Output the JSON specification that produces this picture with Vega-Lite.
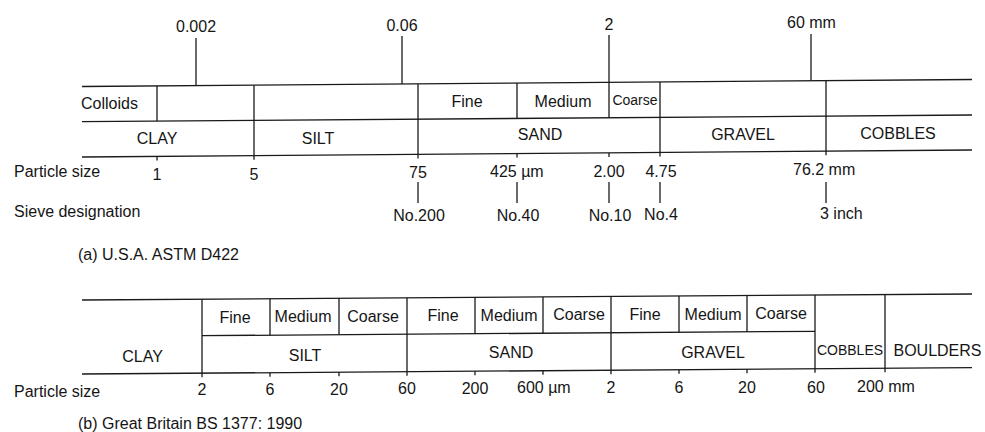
{
  "$schema": "https://vega.github.io/schema/vega-lite/v6.json",
  "width": 985,
  "height": 432,
  "autosize": {"type": "fit", "contains": "padding"},
  "padding": 0,
  "background": "white",
  "config": {"view": {"stroke": null}, "text": {"font": "Liberation Sans", "color": "#151515"}},
  "datasets": {
    "lines": [
      {"x": 82, "y": 86.5, "x2": 972, "y2": 79.5},
      {"x": 82, "y": 121.7, "x2": 972, "y2": 115},
      {"x": 82, "y": 157, "x2": 972, "y2": 150},
      {"x": 157, "y": 85.9, "x2": 157, "y2": 121.1},
      {"x": 157, "y": 156.4, "x2": 157, "y2": 160.5},
      {"x": 196, "y": 38, "x2": 196, "y2": 85.6},
      {"x": 254, "y": 85.15, "x2": 254, "y2": 159.7},
      {"x": 402, "y": 36, "x2": 402, "y2": 84},
      {"x": 418, "y": 83.9, "x2": 418, "y2": 158.4},
      {"x": 517, "y": 83.1, "x2": 517, "y2": 118.4},
      {"x": 517, "y": 153.6, "x2": 517, "y2": 157.6},
      {"x": 609, "y": 35, "x2": 609, "y2": 117.7},
      {"x": 609, "y": 152.9, "x2": 609, "y2": 156.9},
      {"x": 660, "y": 82, "x2": 660, "y2": 156.5},
      {"x": 811, "y": 34, "x2": 811, "y2": 80.8},
      {"x": 826, "y": 80.65, "x2": 826, "y2": 155.2},
      {"x": 418, "y": 182, "x2": 418, "y2": 203},
      {"x": 517, "y": 182, "x2": 517, "y2": 203},
      {"x": 609, "y": 182, "x2": 609, "y2": 203},
      {"x": 660, "y": 182, "x2": 660, "y2": 203},
      {"x": 826, "y": 182, "x2": 826, "y2": 203},
      {"x": 82, "y": 300, "x2": 972, "y2": 294},
      {"x": 202, "y": 335.65, "x2": 815, "y2": 331.3},
      {"x": 82, "y": 374, "x2": 972, "y2": 367.7},
      {"x": 202, "y": 299.2, "x2": 202, "y2": 377.2},
      {"x": 270, "y": 298.7, "x2": 270, "y2": 335.2},
      {"x": 270, "y": 372.7, "x2": 270, "y2": 376.7},
      {"x": 339, "y": 298.3, "x2": 339, "y2": 334.7},
      {"x": 339, "y": 372.2, "x2": 339, "y2": 376.2},
      {"x": 407, "y": 297.8, "x2": 407, "y2": 375.7},
      {"x": 475, "y": 297.35, "x2": 475, "y2": 333.7},
      {"x": 475, "y": 371.2, "x2": 475, "y2": 375.2},
      {"x": 543, "y": 296.9, "x2": 543, "y2": 333.2},
      {"x": 543, "y": 370.7, "x2": 543, "y2": 374.7},
      {"x": 611, "y": 296.4, "x2": 611, "y2": 374.25},
      {"x": 679, "y": 296.0, "x2": 679, "y2": 332.3},
      {"x": 679, "y": 369.8, "x2": 679, "y2": 373.8},
      {"x": 747, "y": 295.5, "x2": 747, "y2": 331.8},
      {"x": 747, "y": 369.3, "x2": 747, "y2": 373.3},
      {"x": 815, "y": 295.05, "x2": 815, "y2": 372.8},
      {"x": 885, "y": 294.6, "x2": 885, "y2": 372.3}
    ],
    "centerText": [
      {"x": 196, "y": 27, "label": "0.002"},
      {"x": 402, "y": 26, "label": "0.06"},
      {"x": 609, "y": 25, "label": "2"},
      {"x": 467, "y": 102, "label": "Fine"},
      {"x": 563, "y": 102, "label": "Medium"},
      {"x": 157, "y": 139, "label": "CLAY"},
      {"x": 318, "y": 138.5, "label": "SILT"},
      {"x": 540, "y": 135, "label": "SAND"},
      {"x": 743, "y": 135, "label": "GRAVEL"},
      {"x": 898, "y": 133.5, "label": "COBBLES"},
      {"x": 157, "y": 175, "label": "1"},
      {"x": 254, "y": 175, "label": "5"},
      {"x": 418, "y": 173, "label": "75"},
      {"x": 609, "y": 172, "label": "2.00"},
      {"x": 661, "y": 172, "label": "4.75"},
      {"x": 419, "y": 216, "label": "No.200"},
      {"x": 518, "y": 215.5, "label": "No.40"},
      {"x": 610, "y": 215.5, "label": "No.10"},
      {"x": 661, "y": 215, "label": "No.4"},
      {"x": 235, "y": 317.5, "label": "Fine"},
      {"x": 303, "y": 317, "label": "Medium"},
      {"x": 373, "y": 316.5, "label": "Coarse"},
      {"x": 443, "y": 316, "label": "Fine"},
      {"x": 509, "y": 315.5, "label": "Medium"},
      {"x": 579, "y": 315, "label": "Coarse"},
      {"x": 645, "y": 315, "label": "Fine"},
      {"x": 713, "y": 314.5, "label": "Medium"},
      {"x": 781, "y": 314, "label": "Coarse"},
      {"x": 142.5, "y": 357, "label": "CLAY"},
      {"x": 305, "y": 356, "label": "SILT"},
      {"x": 511, "y": 352.5, "label": "SAND"},
      {"x": 713, "y": 353, "label": "GRAVEL"},
      {"x": 937.5, "y": 350.5, "label": "BOULDERS"},
      {"x": 202, "y": 390, "label": "2"},
      {"x": 270, "y": 390, "label": "6"},
      {"x": 339, "y": 389.5, "label": "20"},
      {"x": 407, "y": 389, "label": "60"},
      {"x": 475, "y": 389, "label": "200"},
      {"x": 611, "y": 388, "label": "2"},
      {"x": 679, "y": 388, "label": "6"},
      {"x": 747, "y": 387.5, "label": "20"},
      {"x": 816, "y": 387.5, "label": "60"}
    ],
    "smallText": [
      {"x": 635, "y": 101, "label": "Coarse"},
      {"x": 850, "y": 351, "label": "COBBLES"}
    ],
    "leftText": [
      {"x": 787, "y": 23, "label": "60 mm"},
      {"x": 81, "y": 104, "label": "Colloids"},
      {"x": 14, "y": 172, "label": "Particle size"},
      {"x": 490, "y": 172, "label": "425 µm"},
      {"x": 793, "y": 170, "label": "76.2 mm"},
      {"x": 14, "y": 212, "label": "Sieve designation"},
      {"x": 820, "y": 214, "label": "3 inch"},
      {"x": 78, "y": 255, "label": "(a) U.S.A. ASTM D422"},
      {"x": 14, "y": 392, "label": "Particle size"},
      {"x": 517, "y": 388, "label": "600 µm"},
      {"x": 857, "y": 387, "label": "200 mm"},
      {"x": 78, "y": 424, "label": "(b) Great Britain BS 1377: 1990"}
    ]
  },
  "layer": [
    {
      "data": {"name": "lines"},
      "mark": {"type": "rule", "stroke": "#1a1a1a", "strokeWidth": 1.3},
      "encoding": {
        "x": {"field": "x", "type": "quantitative", "scale": {"domain": [0, 985], "nice": false, "zero": false}, "axis": null},
        "y": {"field": "y", "type": "quantitative", "scale": {"domain": [0, 432], "nice": false, "zero": false, "reverse": true}, "axis": null},
        "x2": {"field": "x2"},
        "y2": {"field": "y2"}
      }
    },
    {
      "data": {"name": "centerText"},
      "mark": {"type": "text", "align": "center", "baseline": "middle", "fontSize": 16},
      "encoding": {
        "x": {"field": "x", "type": "quantitative", "axis": null},
        "y": {"field": "y", "type": "quantitative", "axis": null},
        "text": {"field": "label"}
      }
    },
    {
      "data": {"name": "smallText"},
      "mark": {"type": "text", "align": "center", "baseline": "middle", "fontSize": 14},
      "encoding": {
        "x": {"field": "x", "type": "quantitative", "axis": null},
        "y": {"field": "y", "type": "quantitative", "axis": null},
        "text": {"field": "label"}
      }
    },
    {
      "data": {"name": "leftText"},
      "mark": {"type": "text", "align": "left", "baseline": "middle", "fontSize": 16},
      "encoding": {
        "x": {"field": "x", "type": "quantitative", "axis": null},
        "y": {"field": "y", "type": "quantitative", "axis": null},
        "text": {"field": "label"}
      }
    }
  ]
}
